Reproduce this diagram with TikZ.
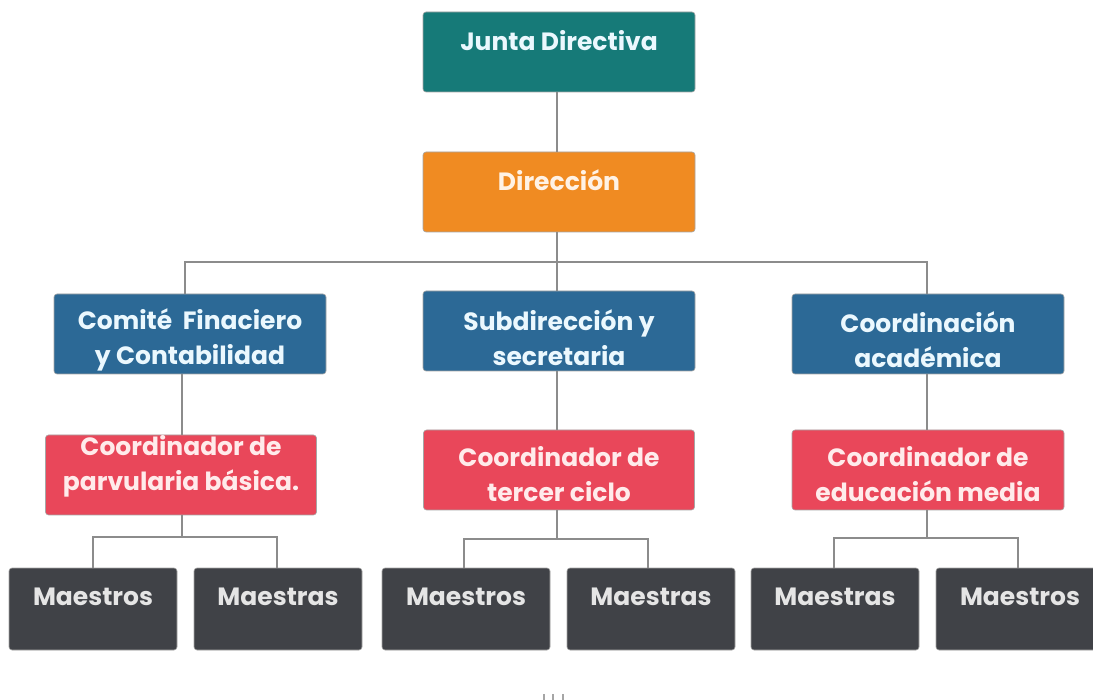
\documentclass[tikz,border=0pt]{standalone}
\usepackage{fontspec}
\setmainfont{Poppins}
\begin{document}
\begin{tikzpicture}[x=1pt,y=-1pt,
  box/.style={draw=black!35,line width=0.6pt,rounded corners=3pt,inner sep=0pt},
  txt/.style={font=\bfseries\fontsize{25}{35}\selectfont,align=center,inner sep=0pt},
  link/.style={draw=black!45,line width=1.1pt}]
\definecolor{cteal}{HTML}{167A78}
\definecolor{corange}{HTML}{F08B22}
\definecolor{cblue}{HTML}{2C6996}
\definecolor{cred}{HTML}{E9475A}
\definecolor{cdark}{HTML}{404247}
\useasboundingbox (0,0) rectangle (1093,700);
\fill[white] (0,0) rectangle (1093,700);

% boxes
\node[box,fill=cteal,minimum width=272pt,minimum height=80pt] (junta) at (559,52) {};
\node[box,fill=corange,minimum width=272pt,minimum height=80pt] (dir) at (559,192) {};
\node[box,fill=cblue,minimum width=272pt,minimum height=80pt] (comite) at (190,334) {};
\node[box,fill=cblue,minimum width=272pt,minimum height=80pt] (subdir) at (559,331) {};
\node[box,fill=cblue,minimum width=272pt,minimum height=80pt] (acad) at (928,334) {};
\node[box,fill=cred,minimum width=271pt,minimum height=80pt] (parv) at (181,475) {};
\node[box,fill=cred,minimum width=271pt,minimum height=80pt] (tercer) at (559,470) {};
\node[box,fill=cred,minimum width=272pt,minimum height=80pt] (media) at (928,470) {};
\node[box,fill=cdark,minimum width=168pt,minimum height=82pt] (m1) at (93,609) {};
\node[box,fill=cdark,minimum width=168pt,minimum height=82pt] (m2) at (278,609) {};
\node[box,fill=cdark,minimum width=168pt,minimum height=82pt] (m3) at (466,609) {};
\node[box,fill=cdark,minimum width=168pt,minimum height=82pt] (m4) at (651,609) {};
\node[box,fill=cdark,minimum width=168pt,minimum height=82pt] (m5) at (835,609) {};
\node[box,fill=cdark,minimum width=168pt,minimum height=82pt] (m6) at (1020,609) {};

% texts
\node[txt,text=cyan!8] (junta-t) at (559,41) {Junta Directiva};
\node[txt,text=orange!10] (dir-t) at (559,180) {Dirección};
\node[txt,text=cyan!8] (comite-t) at (190,340) {Comité\ \ Finaciero\\y Contabilidad};
\node[txt,text=cyan!8] (subdir-t) at (559,338) {Subdirección y\\secretaria};
\node[txt,text=cyan!8] (acad-t) at (928,340) {Coordinación\\académica};
\node[txt,text=red!8] (parv-t) at (181,466) {Coordinador de\\parvularia básica.};
\node[txt,text=red!8] (tercer-t) at (559,474) {Coordinador de\\tercer ciclo};
\node[txt,text=red!8] (media-t) at (928,474) {Coordinador de\\educación media};
\node[txt,text=white!90!black] (m1-t) at (93,597) {Maestros};
\node[txt,text=white!90!black] (m2-t) at (278,597) {Maestras};
\node[txt,text=white!90!black] (m3-t) at (466,597) {Maestros};
\node[txt,text=white!90!black] (m4-t) at (651,597) {Maestras};
\node[txt,text=white!90!black] (m5-t) at (835,597) {Maestras};
\node[txt,text=white!90!black] (m6-t) at (1020,597) {Maestros};

% connectors
\coordinate (bus) at (557,262);
\draw[link] (junta.south -| 557,0) -- (dir.north -| 557,0);
\draw[link] (dir.south -| 557,0) -- (bus);
\draw[link] (comite.north -| 185,0) |- (bus) -| (acad.north -| 927,0);
\draw[link] (bus) -- (subdir.north -| 557,0);
\draw[link] (comite.south -| 182,0) -- (parv.north -| 182,0);
\draw[link] (subdir.south -| 557,0) -- (tercer.north -| 557,0);
\draw[link] (acad.south -| 927,0) -- (media.north -| 927,0);
% lower buses
\coordinate (b1) at (182,537);
\coordinate (b2) at (557,539);
\coordinate (b3) at (927,538);
\draw[link] (parv.south -| b1) -- (b1);
\draw[link] (m1.north -| 93,0) |- (b1) -| (m2.north -| 277,0);
\draw[link] (tercer.south -| b2) -- (b2);
\draw[link] (m3.north -| 464,0) |- (b2) -| (m4.north -| 648,0);
\draw[link] (media.south -| b3) -- (b3);
\draw[link] (m5.north -| 834,0) |- (b3) -| (m6.north -| 1018,0);

% small marks at bottom
\foreach \xx in {544,553,563} \draw[black!35,line width=1.2pt] (\xx,694) -- (\xx,700);
\end{tikzpicture}
\end{document}
